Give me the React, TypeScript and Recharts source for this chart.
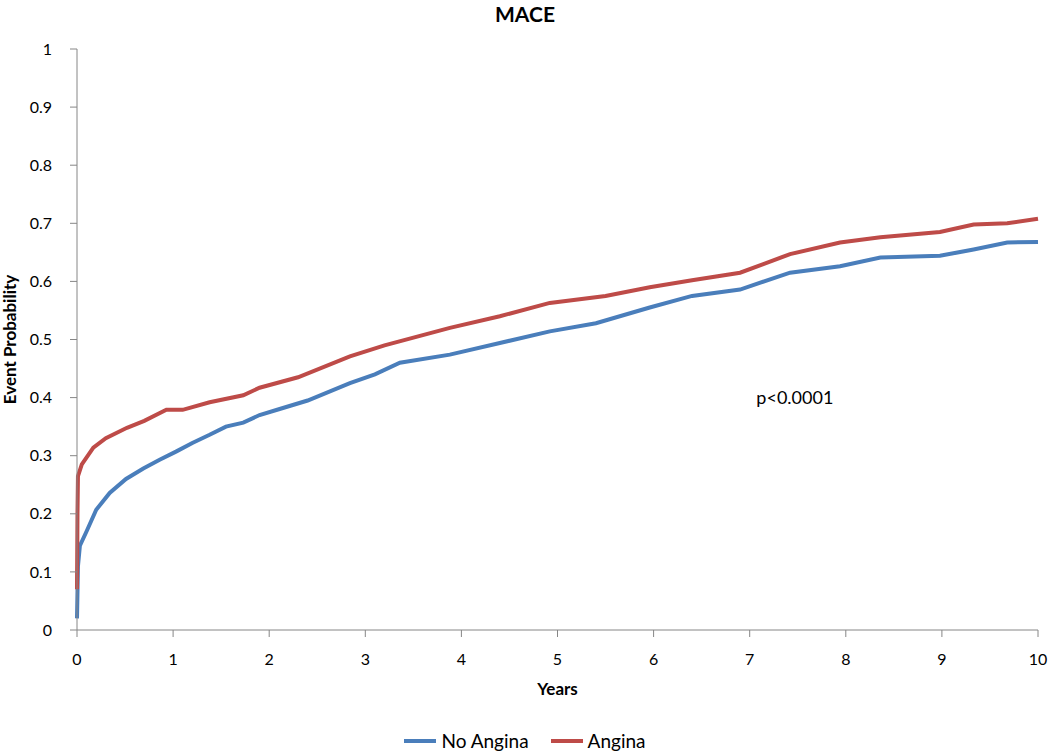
import React from "react";
import { LineChart, Line, XAxis, YAxis, ReferenceDot, Label } from "recharts";

// Kaplan-Meier style cumulative event probability
const noAnginaYears = [0, 0.01, 0.03, 0.1, 0.2, 0.34, 0.51, 0.69, 0.86, 1.03, 1.2, 1.38, 1.55, 1.73, 1.9, 2.1, 2.4, 2.84, 3.1, 3.36, 3.88, 4.4, 4.92, 5.4, 5.96, 6.4, 6.9, 7.42, 7.94, 8.36, 8.98, 9.33, 9.68, 10];
const noAnginaProb = [0.02, 0.11, 0.145, 0.17, 0.207, 0.236, 0.26, 0.278, 0.293, 0.307, 0.322, 0.336, 0.35, 0.357, 0.37, 0.38, 0.395, 0.425, 0.44, 0.46, 0.474, 0.494, 0.514, 0.528, 0.555, 0.575, 0.586, 0.615, 0.626, 0.641, 0.644, 0.655, 0.667, 0.668];

const anginaYears = [0, 0.005, 0.01, 0.05, 0.17, 0.3, 0.52, 0.7, 0.93, 1.1, 1.38, 1.73, 1.9, 2.3, 2.84, 3.2, 3.88, 4.4, 4.92, 5.5, 5.96, 6.4, 6.9, 7.42, 7.94, 8.36, 8.98, 9.33, 9.68, 10];
const anginaProb = [0.07, 0.2, 0.265, 0.285, 0.314, 0.33, 0.348, 0.36, 0.379, 0.379, 0.392, 0.404, 0.417, 0.435, 0.471, 0.49, 0.52, 0.54, 0.563, 0.575, 0.59, 0.602, 0.615, 0.647, 0.667, 0.676, 0.685, 0.698, 0.7, 0.708];

const xTicks = [0, 1, 2, 3, 4, 5, 6, 7, 8, 9, 10];
const yTicks = [0, 0.1, 0.2, 0.3, 0.4, 0.5, 0.6, 0.7, 0.8, 0.9, 1];

const BLUE = "#4a7ebb";
const RED = "#be4b48";
const AXIS = "#868686";
const FONT = "Lato, 'Open Sans', sans-serif";

const noAnginaData = noAnginaYears.map((x, i) => ({ x, y: noAnginaProb[i] }));
const anginaData = anginaYears.map((x, i) => ({ x, y: anginaProb[i] }));

function YTitle(props: any) {
  const vb = props.viewBox || {};
  const cy = vb.y + vb.height / 2;
  return (
    <text
      x={16}
      y={cy}
      transform={`rotate(-90, 16, ${cy})`}
      textAnchor="middle"
      fontSize={17}
      fontWeight={700}
      fill="#000"
      fontFamily={FONT}
    >
      Event Probability
    </text>
  );
}

export default function App() {
  const tickStyle = { fontSize: 16, fill: "#000", fontFamily: FONT };
  return (
    <div style={{ position: "absolute", left: 0, top: 0, width: 1050, height: 753, background: "#fff", fontFamily: FONT }}>
      <div style={{ position: "absolute", left: 0, top: 2, width: 1050, textAlign: "center", fontSize: 21, lineHeight: "24px", fontWeight: 700 }}>
        MACE
      </div>
      <LineChart width={1050} height={713} margin={{ top: 49, right: 12, left: 0, bottom: 13 }}>
        <XAxis
          type="number"
          dataKey="x"
          domain={[0, 10]}
          ticks={xTicks}
          allowDuplicatedCategory={false}
          height={70}
          tick={tickStyle}
          tickSize={7}
          tickMargin={17}
          stroke={AXIS}
          tickLine={{ stroke: AXIS }}
        >
          <Label value="Years" position="insideBottom" offset={5} style={{ fontSize: 17, fontWeight: 700, fill: "#000", fontFamily: FONT }} />
        </XAxis>
        <YAxis
          type="number"
          dataKey="y"
          domain={[0, 1]}
          ticks={yTicks}
          width={77}
          tick={tickStyle}
          tickSize={7}
          tickMargin={18}
          stroke={AXIS}
          tickLine={{ stroke: AXIS }}
        >
          <Label content={<YTitle />} />
        </YAxis>
        <Line data={noAnginaData} dataKey="y" type="linear" stroke={BLUE} strokeWidth={4} dot={false} isAnimationActive={false} name="No Angina" />
        <Line data={anginaData} dataKey="y" type="linear" stroke={RED} strokeWidth={4} dot={false} isAnimationActive={false} name="Angina" />
        <ReferenceDot x={7.47} y={0.4} r={0} fill="none" stroke="none" label={{ value: "p<0.0001", position: "center", fontSize: 18, fill: "#000", fontFamily: FONT }} />
      </LineChart>
      <div style={{ position: "absolute", left: 0, top: 729, width: 1050, display: "flex", justifyContent: "center", alignItems: "center", fontSize: 19, color: "#000" }}>
        <span style={{ display: "inline-block", width: 32, height: 4, background: BLUE, marginRight: 5 }} />
        <span style={{ marginRight: 22 }}>No Angina</span>
        <span style={{ display: "inline-block", width: 32, height: 4, background: RED, marginRight: 5 }} />
        <span>Angina</span>
      </div>
    </div>
  );
}
